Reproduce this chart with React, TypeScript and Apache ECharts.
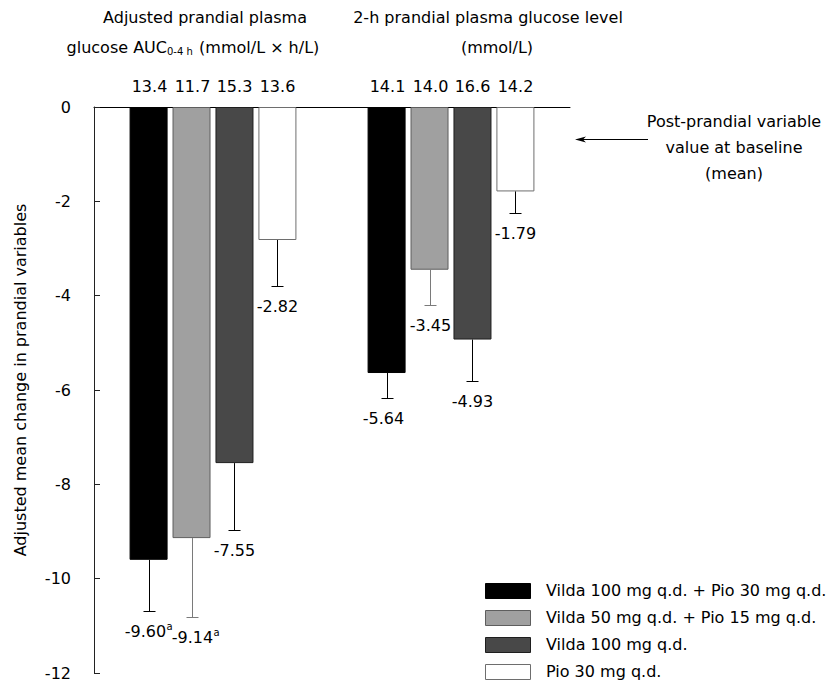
import React, { useEffect, useRef } from "react";
import * as echarts from "echarts";

const FONT = '"DejaVu Sans", Verdana, sans-serif';

// ---- data ----
const categories = ["Adjusted prandial plasma glucose AUC0-4 h", "2-h prandial plasma glucose level"];
const seriesNames = [
  "Vilda 100 mg q.d. + Pio 30 mg q.d.",
  "Vilda 50 mg q.d. + Pio 15 mg q.d.",
  "Vilda 100 mg q.d.",
  "Pio 30 mg q.d.",
];
const vilda100Pio30 = [-9.6, -5.64];
const vilda50Pio15 = [-9.14, -3.45];
const vilda100 = [-7.55, -4.93];
const pio30 = [-2.82, -1.79];
const seriesValues = [vilda100Pio30, vilda50Pio15, vilda100, pio30];

const vilda100Pio30Err = [1.08, 0.52];
const vilda50Pio15Err = [1.68, 0.75];
const vilda100Err = [1.41, 0.88];
const pio30Err = [0.98, 0.46];
const seriesErrors = [vilda100Pio30Err, vilda50Pio15Err, vilda100Err, pio30Err];

const vilda100Pio30Base = [13.4, 14.1];
const vilda50Pio15Base = [11.7, 14.0];
const vilda100Base = [15.3, 16.6];
const pio30Base = [13.6, 14.2];
const seriesBaselines = [vilda100Pio30Base, vilda50Pio15Base, vilda100Base, pio30Base];

const vilda100Pio30Sup = ["a", ""];
const vilda50Pio15Sup = ["a", ""];
const vilda100Sup = ["", ""];
const pio30Sup = ["", ""];
const seriesSup = [vilda100Pio30Sup, vilda50Pio15Sup, vilda100Sup, pio30Sup];

const yMin = -12;
const yMax = 0;
const yInterval = 2;

// ---- styles ----
const fills = ["#000000", "#a0a0a0", "#484848", "#ffffff"];
const borders = ["#000000", "#5e5e5e", "#1e1e1e", "#6e6e6e"];
const errColors = ["#000000", "#7a7a7a", "#000000", "#000000"];
const labelDx = [-4, 0, 0, 0];
const BAR_WIDTH = 38;
const BAR_GAP = 0.13;
const LEGEND_X = 485;
const LEGEND_Y0 = 590;
const LEGEND_STEP = 27;

export default function App() {
  const ref = useRef<HTMLDivElement>(null);
  useEffect(() => {
    if (!ref.current) return;
    const chart = echarts.init(ref.current, undefined, { renderer: "svg" });

    const barSeries = seriesNames.map((name, i) => ({
      type: "bar",
      name,
      data: seriesValues[i],
      barWidth: BAR_WIDTH,
      barGap: `${BAR_GAP * 100}%`,
      itemStyle: { color: fills[i], borderColor: borders[i], borderWidth: 1 },
      z: 2,
    }));

    const errSeries = seriesNames.map((name, i) => ({
      type: "custom",
      name: "err" + i,
      clip: false,
      z: 5,
      data: categories.map((_, c) => [c, seriesValues[i][c], seriesErrors[i][c], seriesBaselines[i][c]]),
      encode: { x: 0, y: 1 },
      renderItem: (params: any, api: any) => {
        const c = api.value(0);
        const v = api.value(1);
        const se = api.value(2);
        const base = api.value(3);
        const p0 = api.coord([c, 0]);
        const pv = api.coord([c, v]);
        const pe = api.coord([c, v - se]);
        const x = Math.round(p0[0] + (i - 1.5) * BAR_WIDTH * (1 + BAR_GAP)) + 0.5;
        const yEnd = Math.round(pe[1]) + 0.5;
        const sup = seriesSup[i][params.dataIndex];
        const col = errColors[i];
        const children: any[] = [
          { type: "line", shape: { x1: x, y1: pv[1], x2: x, y2: yEnd }, style: { stroke: col, lineWidth: 1 } },
          { type: "line", shape: { x1: x - 6, y1: yEnd, x2: x + 6, y2: yEnd }, style: { stroke: col, lineWidth: 1 } },
          {
            type: "text",
            x: x + labelDx[i],
            y: yEnd + 20,
            style: {
              text: v.toFixed(2),
              align: "center",
              verticalAlign: "middle",
              fontSize: 16,
              fontFamily: FONT,
              fill: "#000",
            },
          },
          {
            type: "text",
            x,
            y: p0[1] - 21,
            style: {
              text: base.toFixed(1),
              align: "center",
              verticalAlign: "middle",
              fontSize: 16,
              fontFamily: FONT,
              fill: "#000",
            },
          },
        ];
        if (sup) {
          children.push({
            type: "text",
            x: x + labelDx[i] + 21,
            y: yEnd + 15,
            style: {
              text: sup,
              align: "left",
              verticalAlign: "middle",
              fontSize: 10,
              fontFamily: FONT,
              fill: "#000",
            },
          });
        }
        return { type: "group", children };
      },
    }));

    const textStyle = (extra: any) => ({
      fontSize: 16,
      fontFamily: FONT,
      fill: "#000",
      align: "center",
      verticalAlign: "middle",
      ...extra,
    });

    const legendGraphics: any[] = [];
    seriesNames.forEach((name, i) => {
      const cy = LEGEND_Y0 + i * LEGEND_STEP;
      legendGraphics.push({
        type: "rect",
        shape: { x: LEGEND_X + 0.5, y: Math.round(cy - 7.5) + 0.5, width: 45, height: 15 },
        style: { fill: fills[i], stroke: borders[i], lineWidth: 1 },
      });
      legendGraphics.push({
        type: "text",
        x: LEGEND_X + 61,
        y: cy,
        style: textStyle({ text: name, align: "left" }),
      });
    });

    chart.setOption({
      animation: false,
      backgroundColor: "#ffffff",
      grid: { left: 94, top: 107, width: 476, height: 572, containLabel: false },
      xAxis: {
        type: "category",
        data: categories,
        position: "top",
        axisLine: { show: true, lineStyle: { color: "#000", width: 1 } },
        axisTick: { show: false },
        axisLabel: { show: false },
        splitLine: { show: false },
      },
      yAxis: {
        type: "value",
        min: yMin,
        max: yMax,
        interval: yInterval,
        axisLine: { show: true, lineStyle: { color: "#222", width: 1 } },
        axisTick: { show: true, inside: true, length: 6, lineStyle: { color: "#222" } },
        axisLabel: { margin: 23, fontSize: 16, fontFamily: FONT, color: "#000" },
        splitLine: { show: false },
      },
      graphic: [
        { type: "text", x: 205, y: 17, style: textStyle({ text: "Adjusted prandial plasma" }) },
        { type: "text", x: 167, y: 47, style: textStyle({ text: "glucose AUC", align: "right" }) },
        {
          type: "text",
          x: 167,
          y: 51,
          style: { text: "0-4 h", fontSize: 10, fontFamily: FONT, fill: "#000", align: "left", verticalAlign: "middle" },
        },
        { type: "text", x: 194, y: 47, style: textStyle({ text: " (mmol/L × h/L)", align: "left" }) },
        { type: "text", x: 488, y: 17, style: textStyle({ text: "2-h prandial plasma glucose level" }) },
        { type: "text", x: 497, y: 47, style: textStyle({ text: "(mmol/L)" }) },
        { type: "text", x: 734, y: 121, style: textStyle({ text: "Post-prandial variable" }) },
        { type: "text", x: 734, y: 147, style: textStyle({ text: "value at baseline" }) },
        { type: "text", x: 734, y: 173, style: textStyle({ text: "(mean)" }) },
        { type: "line", shape: { x1: 580, y1: 139.5, x2: 648, y2: 139.5 }, style: { stroke: "#000", lineWidth: 1 } },
        {
          type: "polygon",
          shape: { points: [[575, 139.5], [586, 136.5], [583, 139.5], [586, 142.5]] },
          style: { fill: "#000" },
        },
        {
          type: "text",
          x: 20,
          y: 380,
          rotation: Math.PI / 2,
          style: textStyle({ text: "Adjusted mean change in prandial variables" }),
        },
        ...legendGraphics,
      ],
      series: [...barSeries, ...errSeries],
    });

    return () => chart.dispose();
  }, []);

  return (
    <div
      ref={ref}
      style={{ position: "fixed", left: 0, top: 0, width: 831, height: 681, background: "#fff" }}
    />
  );
}
